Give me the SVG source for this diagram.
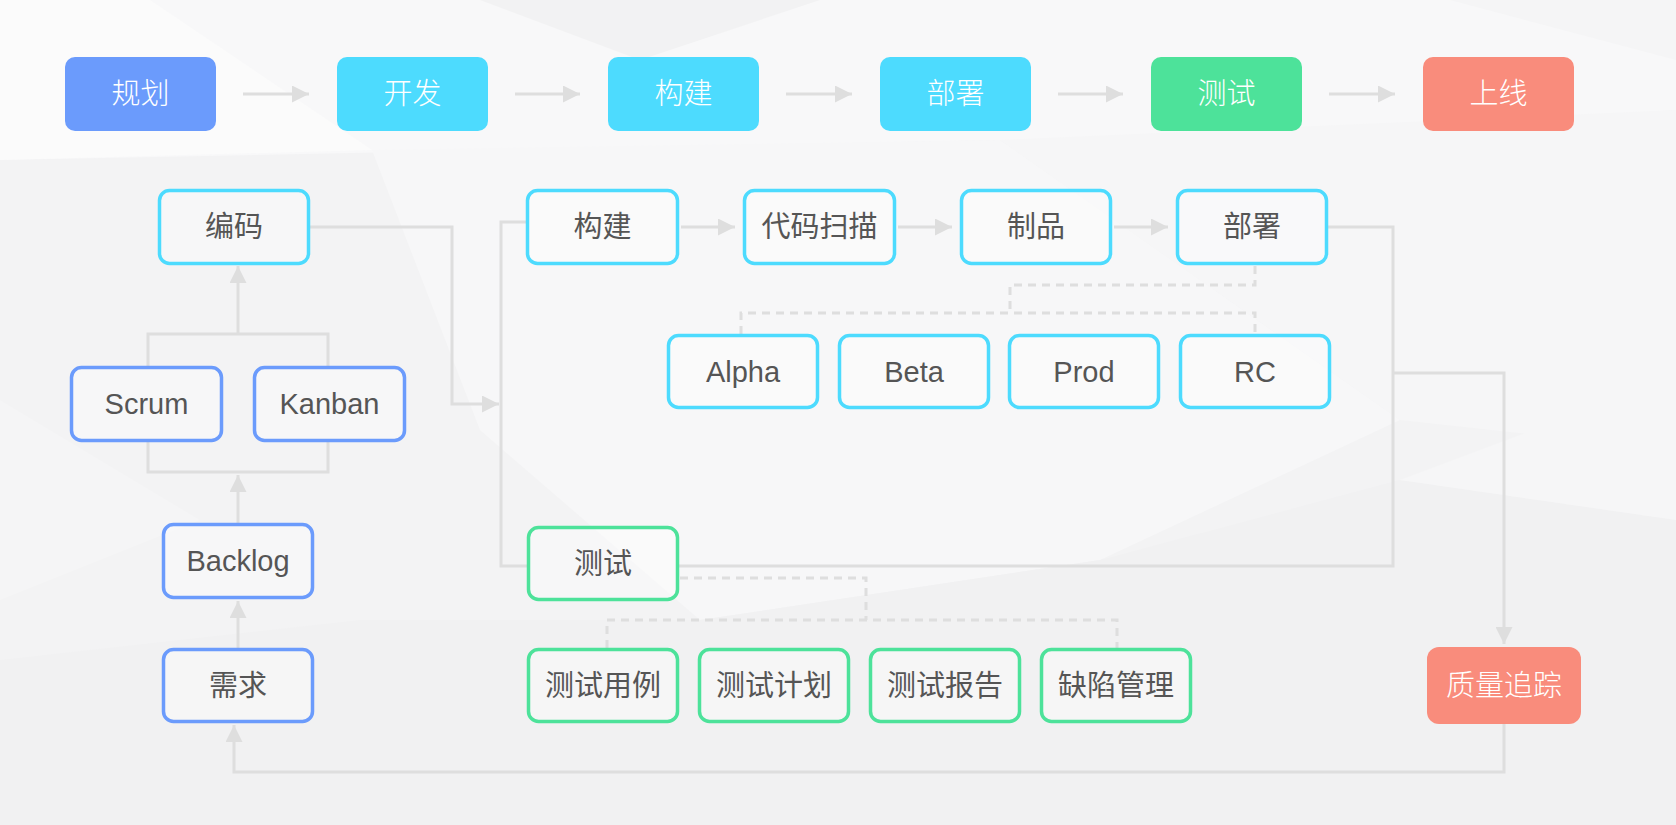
<svg xmlns="http://www.w3.org/2000/svg" width="1676" height="825" viewBox="0 0 1676 825">
<defs>
<style>
.t{font-family:"Liberation Sans","Noto Sans CJK SC",sans-serif;font-size:29px;fill:#555;text-anchor:middle;dominant-baseline:central}
.w{fill:#fff;font-weight:300}
.ob{fill:#fff;fill-opacity:0.35;stroke-width:3.5}
.blue{stroke:#6b9bfc}
.cyan{stroke:#4ddbfe}
.green{stroke:#4de29a}
.con{fill:none;stroke:#dedede;stroke-width:3}
.dash{fill:none;stroke:#dedede;stroke-width:3;stroke-dasharray:8 6}
</style>
<marker id="ah" markerUnits="userSpaceOnUse" markerWidth="17" markerHeight="17" refX="17" refY="8.5" orient="auto">
<path d="M0,0 L17,8.5 L0,17 z" fill="#dedede"/>
</marker>
</defs>
<g id="background">
<rect x="0" y="0" width="1676" height="825" fill="#f3f3f4"/>
<polygon points="0,0 1676,0 1676,110 1250,140 1000,140 0,160" fill="#f8f8f9"/>
<polygon points="0,0 150,0 372,150 0,160" fill="#fbfbfb"/>
<polygon points="480,0 820,0 640,60" fill="#f2f2f3"/>
<polygon points="1450,0 1676,0 1676,60" fill="#f5f5f6"/>
<polygon points="372,150 1000,140 1400,420 1100,560 700,620 480,430" fill="#f7f7f8"/>
<polygon points="1000,140 1676,110 1676,450 1400,420" fill="#f6f6f7"/>
<polygon points="0,660 360,620 700,620 1100,560 1400,480 1676,520 1676,825 0,825" fill="#f1f1f2"/>
<polygon points="1400,480 1560,420 1676,330 1676,520" fill="#f6f6f7"/>
<polygon points="0,400 200,520 0,600" fill="#f5f5f6"/>
</g>
<g id="connectors">
<path class="con" d="M243,94 H309" marker-end="url(#ah)"/>
<path class="con" d="M515,94 H580" marker-end="url(#ah)"/>
<path class="con" d="M786,94 H852" marker-end="url(#ah)"/>
<path class="con" d="M1058,94 H1123" marker-end="url(#ah)"/>
<path class="con" d="M1329,94 H1395" marker-end="url(#ah)"/>
<path class="con" d="M310,227 H452 V404 H499" marker-end="url(#ah)"/>
<path class="con" d="M526,222 H501 V566 H527"/>
<path class="con" d="M681,227 H735" marker-end="url(#ah)"/>
<path class="con" d="M898,227 H952" marker-end="url(#ah)"/>
<path class="con" d="M1114,227 H1168" marker-end="url(#ah)"/>
<path class="con" d="M1328,227 H1393 V566 H679"/>
<path class="con" d="M1393,373 H1504 V644" marker-end="url(#ah)"/>
<path class="con" d="M1504,724 V772 H234 V725" marker-end="url(#ah)"/>
<path class="con" d="M238,648 V601" marker-end="url(#ah)"/>
<path class="con" d="M238,523 V475" marker-end="url(#ah)"/>
<path class="con" d="M148,442 V472 H328 V442"/>
<path class="con" d="M148,366 V334 H328 V366"/>
<path class="con" d="M238,334 V266" marker-end="url(#ah)"/>
<path class="dash" d="M1255,266 V285 H1010 V313"/>
<path class="dash" d="M741,334 V313 H1255 V334"/>
<path class="dash" d="M680,578 H866 V620"/>
<path class="dash" d="M607,648 V620 H1117 V648"/>
</g>
<g id="n-guihua"><rect x="65" y="57" width="151" height="74" rx="10" fill="#6b9bfc"/><text class="t w" x="140.5" y="94">规划</text></g>
<g id="n-kaifa"><rect x="337" y="57" width="151" height="74" rx="10" fill="#4ddbfe"/><text class="t w" x="412.5" y="94">开发</text></g>
<g id="n-goujian-top"><rect x="608" y="57" width="151" height="74" rx="10" fill="#4ddbfe"/><text class="t w" x="683.5" y="94">构建</text></g>
<g id="n-bushu-top"><rect x="880" y="57" width="151" height="74" rx="10" fill="#4ddbfe"/><text class="t w" x="955.5" y="94">部署</text></g>
<g id="n-ceshi-top"><rect x="1151" y="57" width="151" height="74" rx="10" fill="#4de29a"/><text class="t w" x="1226.5" y="94">测试</text></g>
<g id="n-shangxian"><rect x="1423" y="57" width="151" height="74" rx="10" fill="#f98c7c"/><text class="t w" x="1498.5" y="94">上线</text></g>
<g id="n-bianma"><rect class="ob cyan" x="159.5" y="190.5" width="149" height="73" rx="10"/><text class="t" x="234" y="227">编码</text></g>
<g id="n-scrum"><rect class="ob blue" x="71.5" y="367.5" width="150" height="73" rx="10"/><text class="t" x="146.5" y="404">Scrum</text></g>
<g id="n-kanban"><rect class="ob blue" x="254.5" y="367.5" width="150" height="73" rx="10"/><text class="t" x="329.5" y="404">Kanban</text></g>
<g id="n-backlog"><rect class="ob blue" x="163.5" y="524.5" width="149" height="73" rx="10"/><text class="t" x="238" y="561">Backlog</text></g>
<g id="n-xuqiu"><rect class="ob blue" x="163.5" y="649.5" width="149" height="72" rx="10"/><text class="t" x="238" y="686">需求</text></g>
<g id="n-goujian"><rect class="ob cyan" x="527.5" y="190.5" width="150" height="73" rx="10"/><text class="t" x="602.5" y="227">构建</text></g>
<g id="n-daimasaomiao"><rect class="ob cyan" x="744.5" y="190.5" width="150" height="73" rx="10"/><text class="t" x="819.5" y="227">代码扫描</text></g>
<g id="n-zhipin"><rect class="ob cyan" x="961.5" y="190.5" width="149" height="73" rx="10"/><text class="t" x="1036" y="227">制品</text></g>
<g id="n-bushu"><rect class="ob cyan" x="1177.5" y="190.5" width="149" height="73" rx="10"/><text class="t" x="1252" y="227">部署</text></g>
<g id="n-alpha"><rect class="ob cyan" x="668.5" y="335.5" width="149" height="72" rx="10"/><text class="t" x="743" y="372">Alpha</text></g>
<g id="n-beta"><rect class="ob cyan" x="839.5" y="335.5" width="149" height="72" rx="10"/><text class="t" x="914" y="372">Beta</text></g>
<g id="n-prod"><rect class="ob cyan" x="1009.5" y="335.5" width="149" height="72" rx="10"/><text class="t" x="1084" y="372">Prod</text></g>
<g id="n-rc"><rect class="ob cyan" x="1180.5" y="335.5" width="149" height="72" rx="10"/><text class="t" x="1255" y="372">RC</text></g>
<g id="n-ceshi"><rect class="ob green" x="528.5" y="527.5" width="149" height="72" rx="10"/><text class="t" x="603" y="564">测试</text></g>
<g id="n-ceshiyongli"><rect class="ob green" x="528.5" y="649.5" width="149" height="72" rx="10"/><text class="t" x="603" y="686">测试用例</text></g>
<g id="n-ceshijihua"><rect class="ob green" x="699.5" y="649.5" width="149" height="72" rx="10"/><text class="t" x="774" y="686">测试计划</text></g>
<g id="n-ceshibaogao"><rect class="ob green" x="870.5" y="649.5" width="149" height="72" rx="10"/><text class="t" x="945" y="686">测试报告</text></g>
<g id="n-quexianguanli"><rect class="ob green" x="1041.5" y="649.5" width="149" height="72" rx="10"/><text class="t" x="1116" y="686">缺陷管理</text></g>
<g id="n-zhiliangzhuizong"><rect x="1427" y="647" width="154" height="77" rx="12" fill="#f98c7c"/><text class="t w" x="1504" y="686">质量追踪</text></g>
</svg>
